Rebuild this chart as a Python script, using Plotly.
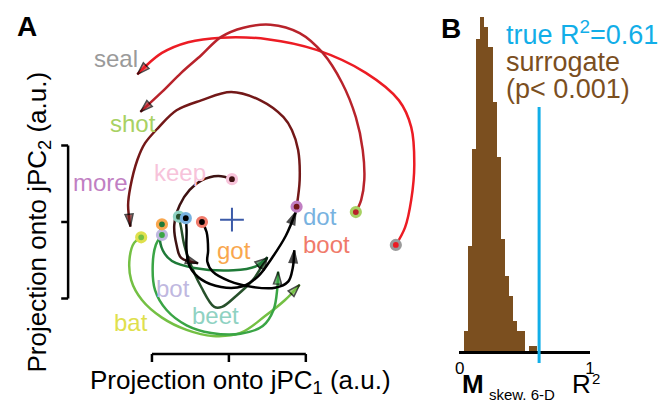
import plotly.graph_objects as go

W, H = 659, 402
FONT = "Liberation Sans, Arial, Helvetica, sans-serif"

# ---- Panel A: population trajectories projected onto jPC1 / jPC2 (a.u.) ----
words = ["seal", "shot", "more", "bat", "bot", "beet", "got", "keep", "dot", "boot"]

seal_x = [2.17, 2.29, 2.37, 2.41, 2.37, 2.21, 1.78, 1.14, 0.50, -0.10, -0.53, -0.87, -1.09, -1.19]
seal_y = [-0.30, -0.07, 0.29, 0.75, 1.24, 1.59, 1.95, 2.25, 2.39, 2.41, 2.35, 2.21, 2.03, 1.93]

shot_x = [1.65, 1.72, 1.76, 1.74, 1.65, 1.47, 1.22, 0.92, 0.54, 0.19, -0.10, -0.36, -0.62, -0.87, -1.15]
shot_y = [0.13, 0.29, 0.55, 0.94, 1.37, 1.82, 2.21, 2.47, 2.58, 2.54, 2.42, 2.18, 1.95, 1.70, 1.44]

more_x = [0.88, 0.92, 0.90, 0.82, 0.71, 0.41, 0.03, -0.36, -0.68, -0.91, -1.09, -1.19, -1.28, -1.31, -1.28]
more_y = [0.20, 0.55, 0.94, 1.20, 1.37, 1.59, 1.70, 1.59, 1.46, 1.24, 1.03, 0.81, 0.46, 0.22, -0.06]

keep_x = [0.04, -0.14, -0.36, -0.51, -0.64, -0.71, -0.68, -0.62, -0.40]
keep_y = [0.56, 0.60, 0.54, 0.42, 0.22, -0.04, -0.30, -0.47, -0.54]

got_x = [-0.87, -0.90, -0.86, -0.74, -0.45, 0.06, 0.35, 0.50]
got_y = [-0.03, -0.17, -0.37, -0.51, -0.60, -0.63, -0.58, -0.47]

beet_x = [-0.65, -0.62, -0.58, -0.51, -0.36, -0.19, -0.09, 0.09, 0.31, 0.44, 0.50]
beet_y = [0.07, -0.08, -0.30, -0.52, -0.85, -1.11, -1.11, -0.97, -0.76, -0.56, -0.46]

dot_x = [-0.56, -0.55, -0.55, -0.51, -0.36, -0.10, 0.18, 0.38, 0.56, 0.74, 0.87]
dot_y = [0.05, -0.10, -0.37, -0.58, -0.75, -0.85, -0.84, -0.71, -0.47, -0.18, 0.13]

boot_x = [-0.35, -0.29, -0.27, -0.28, -0.21, 0.00, 0.31, 0.60, 0.77, 0.83, 0.85]
boot_y = [0.00, -0.13, -0.37, -0.52, -0.65, -0.77, -0.85, -0.86, -0.78, -0.60, -0.37]

bot_x = [-0.87, -0.95, -0.99, -0.96, -0.81, -0.55, -0.23, 0.15, 0.44, 0.58, 0.63, 0.64]
bot_y = [-0.17, -0.30, -0.56, -0.89, -1.15, -1.35, -1.45, -1.46, -1.36, -1.15, -0.86, -0.65]

bat_x = [-1.14, -1.23, -1.29, -1.27, -1.13, -0.87, -0.55, -0.21, 0.15, 0.47, 0.73, 0.92]
bat_y = [-0.20, -0.27, -0.47, -0.76, -1.02, -1.25, -1.41, -1.49, -1.45, -1.23, -1.02, -0.82]

center_x, center_y = [0.04], [0.03]

# ---- Panel B: surrogate distribution of R^2 ----
bin_width = 1 / 32
bin_left = [k / 32 for k in range(1, 19)]
surrogate_counts = [8, 42, 81, 125, 134, 130, 122, 100, 78, 45, 30, 22, 12, 8, 8, 0, 2, 2]
r2_true = 0.61

# ---- styling ----
traj = {
    "seal": (seal_x, seal_y), "shot": (shot_x, shot_y), "more": (more_x, more_y),
    "keep": (keep_x, keep_y), "got": (got_x, got_y), "beet": (beet_x, beet_y),
    "dot": (dot_x, dot_y), "boot": (boot_x, boot_y), "bot": (bot_x, bot_y),
    "bat": (bat_x, bat_y),
}
line_color = {
    "seal": "#ec1c24", "shot": "#b8232b", "more": "#731818", "keep": "#3d1212",
    "got": "#1f7a38", "beet": "#27502b", "bot": "#3aa545", "bat": "#74c044",
    "dot": "#000000", "boot": "#000000",
}
word_color = {
    "seal": "#9a9a9a", "shot": "#a8d163", "more": "#c17fc3", "keep": "#f7c3da",
    "got": "#f9a74e", "bot": "#bfb8e0", "bat": "#dfe04d", "beet": "#8fd2c2",
    "dot": "#78b2e0", "boot": "#f07a6a",
}
label_pos = {
    "seal": (-1.47, 2.14), "shot": (-1.24, 1.29), "more": (-1.67, 0.52),
    "keep": (-0.64, 0.65), "dot": (1.18, 0.07), "boot": (1.27, -0.30),
    "got": (0.06, -0.37), "bot": (-0.72, -0.87), "beet": (-0.18, -1.22),
    "bat": (-1.27, -1.31),
}

# pixel -> data mapping for panel A (1 a.u. = half of each scale bar)
PX0, PY0, SX, SY = 228, 222, 78.0, 76.5
def ax_x(px):
    return (px - PX0) / SX
def ax_y(py):
    return (PY0 - py) / SY
def pap_x(px):
    return px / W
def pap_y(py):
    return 1 - py / H

fig = go.Figure()

# scale bars (axes of panel A)
bar_y, tick_y = ax_y(354), ax_y(362)
fig.add_trace(go.Scatter(
    x=[-1, -1, None, -1, 1, None, 0, 0, None, 1, 1],
    y=[tick_y, bar_y, None, bar_y, bar_y, None, bar_y, tick_y, None, bar_y, tick_y],
    mode="lines", line=dict(color="black", width=2.5), hoverinfo="skip"))
bar_x, tick_x = ax_x(65), ax_x(58)
fig.add_trace(go.Scatter(
    x=[tick_x, bar_x, None, bar_x, bar_x, None, bar_x, tick_x, None, bar_x, tick_x],
    y=[1, 1, None, 1, -1, None, 0, 0, None, -1, -1],
    mode="lines", line=dict(color="black", width=2.5), hoverinfo="skip"))

# trajectories with arrowheads at their ends
for w in words:
    xs, ys = traj[w]
    n = len(xs)
    fig.add_trace(go.Scatter(
        x=xs, y=ys, mode="lines+markers",
        line=dict(color=line_color[w], width=2.5, shape="spline", smoothing=1.0),
        marker=dict(symbol="arrow", angleref="previous",
                    size=[0] * (n - 1) + [13],
                    color=line_color[w],
                    line=dict(color="black", width=1.5)),
        hoverinfo="skip"))

# start points
fig.add_trace(go.Scatter(
    x=[traj[w][0][0] for w in words], y=[traj[w][1][0] for w in words],
    mode="markers",
    marker=dict(size=9, color=[line_color[w] for w in words],
                line=dict(color=[word_color[w] for w in words], width=3.2)),
    hoverinfo="skip"))

# origin marker
fig.add_trace(go.Scatter(
    x=center_x, y=center_y, mode="markers",
    marker=dict(symbol="cross-thin", size=17, line=dict(color="#3b5aa8", width=2)),
    hoverinfo="skip"))

# surrogate histogram
fig.add_trace(go.Bar(
    x=[b + bin_width / 2 for b in bin_left], y=surrogate_counts, width=bin_width,
    marker=dict(color="#7b4f1f", line=dict(width=0)),
    xaxis="x2", yaxis="y2", hoverinfo="skip"))

annotations = []
for w in words:
    lx, ly = label_pos[w]
    annotations.append(dict(x=lx, y=ly, xref="x", yref="y", text=w, showarrow=False,
                            font=dict(family=FONT, size=24, color=word_color[w]),
                            xanchor="center", yanchor="middle"))

def txt(text, x, y, size, color="black", xanchor="center", angle=0):
    annotations.append(dict(x=pap_x(x), y=pap_y(y), xref="paper", yref="paper",
                            text=text, showarrow=False, textangle=angle,
                            font=dict(family=FONT, size=size, color=color),
                            xanchor=xanchor, yanchor="middle"))

txt("<b>A</b>", 23, 26, 28)
txt("<b>B</b>", 453, 29, 28)
txt("Projection onto jPC<sub>1</sub> (a.u.)", 240, 381, 26)
txt("Projection onto jPC<sub>2</sub> (a.u.)", 34, 222, 26, angle=-90)
txt("true R<sup>2</sup>=0.61", 507, 33, 27, color="#12aee8", xanchor="left")
txt("surrogate", 507, 62, 27, color="#7b4f1f", xanchor="left")
txt("(p< 0.001)", 507, 89, 27, color="#7b4f1f", xanchor="left")
txt("<b>M</b>", 476, 384, 26)
txt("skew. 6-D", 490, 394, 15, xanchor="left")
txt("R", 586, 384, 26)
txt("2", 600, 378, 15)

fig.update_layout(
    width=W, height=H, margin=dict(l=0, r=0, t=0, b=0),
    paper_bgcolor="white", plot_bgcolor="white", showlegend=False,
    bargap=0,
    xaxis=dict(domain=[0, 440 / W], range=[ax_x(0), ax_x(440)], visible=False),
    yaxis=dict(domain=[0, 1], range=[ax_y(402), ax_y(0)], visible=False),
    xaxis2=dict(domain=[461 / W, 594 / W], range=[-0.0075, 1.0], anchor="y2",
                showline=True, linecolor="black", linewidth=2.5,
                tickvals=[0, 1], ticktext=["0", "1"], ticks="",
                tickfont=dict(family=FONT, size=17, color="black"),
                showgrid=False, zeroline=False),
    yaxis2=dict(domain=[(H - 351) / H, 1], range=[0, 140.8], visible=False),
    annotations=annotations,
    shapes=[dict(type="line", xref="x2", yref="paper", x0=r2_true, x1=r2_true,
                 y0=pap_y(363), y1=pap_y(107),
                 line=dict(color="#12aee8", width=3))],
)

fig.write_html("out.html")
